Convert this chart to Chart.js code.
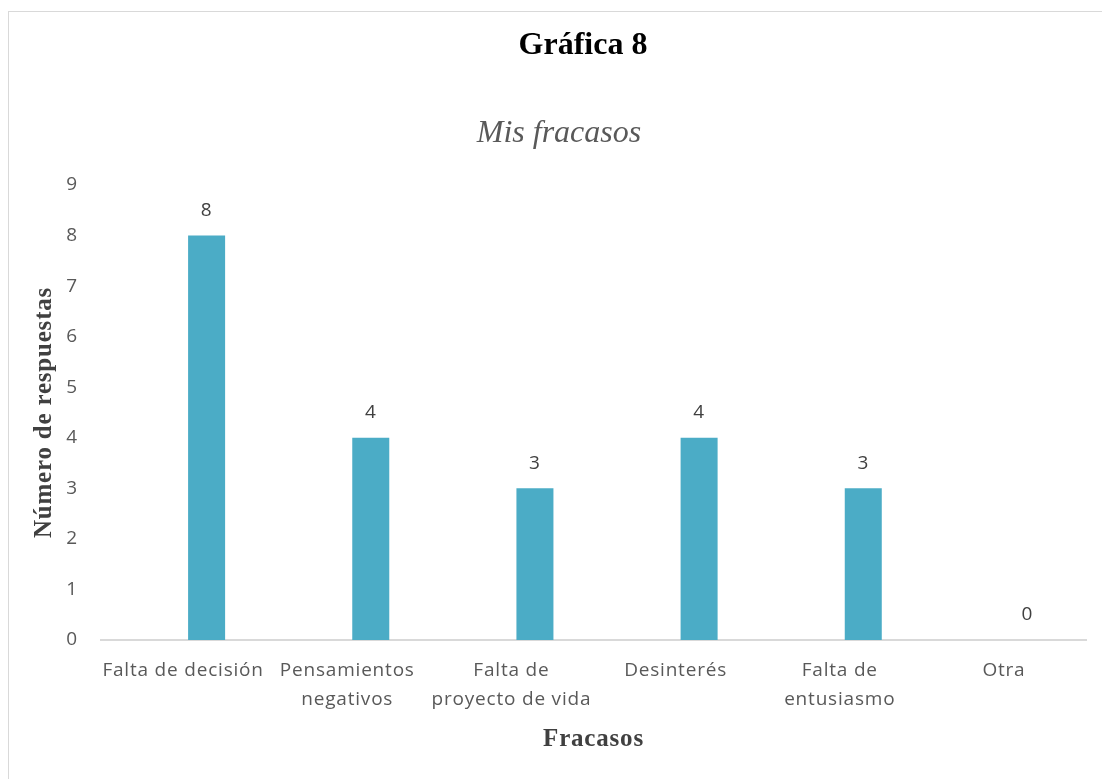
<!DOCTYPE html>
<html>
<head>
<meta charset="utf-8">
<script src="https://cdn.jsdelivr.net/npm/chart.js@4/dist/chart.umd.min.js"></script>
<style>
    body { margin: 0; background: #fff; overflow: hidden; }
    #marco { position: absolute; left: 8px; top: 11px; width: 1200px; height: 900px; border: 1.5px solid #d9d9d9; }
    #caja { position: absolute; left: 0; top: 0; width: 1102px; height: 779px; }
</style>
</head>
<body>
<div id="marco"></div>
<div id="caja"><canvas id="grafica8" width="1102" height="779"></canvas></div>
<script>
// Datos de la gráfica
const categorias = [
    'Falta de decisión',
    ['Pensamientos', 'negativos'],
    ['Falta de', 'proyecto de vida'],
    'Desinterés',
    ['Falta de', 'entusiasmo'],
    'Otra'
];
const respuestas = [8, 4, 3, 4, 3, 0];
const serieVacia = []; // la serie de Excel que no tiene valores
const ticksY = [0, 1, 2, 3, 4, 5, 6, 7, 8, 9];

const grisTexto = '#595959';
const fuenteEje = "'Open Sans', 'Noto Sans', sans-serif";
const fuenteSerif = "'Liberation Serif', 'Times New Roman', serif";

// un poco de espacio entre letras, el texto del original es más ancho
const espaciado = {
    id: 'espaciado',
    beforeDraw(chart) { chart.ctx.letterSpacing = '0.8px'; }
};

// Títulos dibujados a mano (no van centrados en el canvas)
const titulos = {
    id: 'titulos',
    afterDraw(chart) {
        const c = chart.ctx;
        c.save();
        c.letterSpacing = '0px';
        c.textAlign = 'center';
        c.textBaseline = 'middle';
        c.fillStyle = '#000';
        c.font = 'bold 32px ' + fuenteSerif;
        c.fillText('Gráfica 8', 583, 46);
        c.fillStyle = grisTexto;
        c.font = 'italic 32px ' + fuenteSerif;
        c.fillText('Mis fracasos', 559, 134);
        c.restore();
    }
};

// Etiquetas con el valor encima de cada barra
const etiquetas = {
    id: 'etiquetas',
    afterDatasetsDraw(chart) {
        const c = chart.ctx;
        const meta = chart.getDatasetMeta(1);
        c.save();
        c.textAlign = 'center';
        c.textBaseline = 'middle';
        c.fillStyle = '#404040';
        c.font = '19px ' + fuenteEje;
        meta.data.forEach((barra, i) => {
            c.fillText(String(respuestas[i]), barra.x, barra.y - 25);
        });
        c.restore();
    }
};

new Chart(document.getElementById('grafica8'), {
    type: 'bar',
    data: {
        labels: categorias,
        datasets: [{
            label: 'Vacía',
            data: serieVacia,
            backgroundColor: 'rgba(0,0,0,0)'
        }, {
            label: 'Fracasos',
            data: respuestas,
            backgroundColor: '#4bacc6'
        }]
    },
    options: {
        responsive: false,
        animation: false,
        datasets: { bar: { categoryPercentage: 0.573, barPercentage: 0.787 } },
        layout: { padding: { top: 185, right: 16, left: 0, bottom: 0 } },
        plugins: {
            legend: { display: false },
            tooltip: { enabled: false }
        },
        scales: {
            x: {
                grid: { display: false, drawTicks: false },
                border: { display: true, color: '#d9d9d9', width: 2 },
                ticks: {
                    color: grisTexto,
                    padding: 16,
                    maxRotation: 0,
                    autoSkip: false,
                    font: { family: fuenteEje, size: 19, lineHeight: 1.53 }
                },
                title: {
                    display: true,
                    text: 'Fracasos',
                    color: '#404040',
                    padding: { top: 0, bottom: 24 },
                    font: { family: fuenteSerif, size: 25, weight: 'bold' }
                },
                afterFit(s) { s.height = 779 - 640; }
            },
            y: {
                min: 0,
                max: 9,
                afterBuildTicks(s) { s.ticks = ticksY.map(v => ({ value: v })); },
                grid: { display: false, drawTicks: false },
                border: { display: false },
                ticks: {
                    color: grisTexto,
                    padding: 23,
                    font: { family: fuenteEje, size: 19 }
                },
                title: {
                    display: true,
                    text: 'Número de respuestas',
                    color: '#404040',
                    padding: { top: 30, bottom: 0 },
                    font: { family: fuenteSerif, size: 25, weight: 'bold' }
                },
                afterFit(s) { s.width = 101; }
            }
        }
    },
    plugins: [espaciado, titulos, etiquetas]
});
</script>
</body>
</html>
